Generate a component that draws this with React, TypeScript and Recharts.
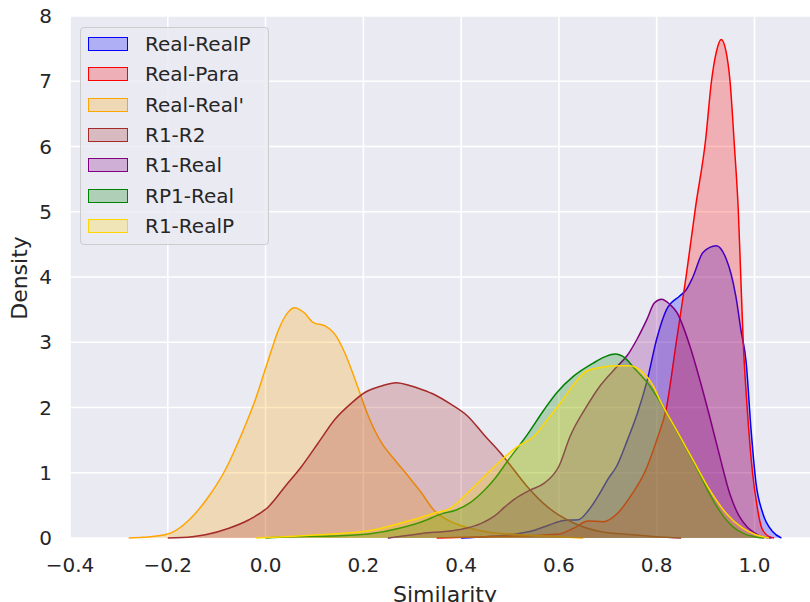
import React from 'react';
import { ComposedChart, Area, XAxis, YAxis, CartesianGrid, Legend, Label } from 'recharts';

// KDE curves: x = similarity, y = density

const realRealPX = [0.40, 0.45, 0.50, 0.55, 0.58, 0.61, 0.64, 0.66, 0.684, 0.70, 0.718, 0.74, 0.76, 0.78, 0.80, 0.82, 0.847, 0.86, 0.874, 0.895, 0.922, 0.942, 0.952, 0.962, 0.972, 0.983, 0.993, 1.003, 1.017, 1.037, 1.055];
const realRealPY = [0.0, 0.02, 0.05, 0.12, 0.2, 0.27, 0.28, 0.42, 0.69, 0.9, 1.1, 1.5, 1.9, 2.4, 3.05, 3.5, 3.71, 3.8, 4.0, 4.38, 4.48, 4.28, 4.05, 3.7, 3.2, 2.69, 1.66, 0.85, 0.38, 0.1, 0.0];

const realParaX = [0.35, 0.45, 0.55, 0.60, 0.63, 0.66, 0.69, 0.72, 0.75, 0.775, 0.80, 0.82, 0.84, 0.86, 0.88, 0.90, 0.912, 0.922, 0.932, 0.942, 0.950, 0.959, 0.967, 0.972, 0.977, 0.985, 0.996, 1.005, 1.015, 1.03, 1.04];
const realParaY = [0.0, 0.02, 0.04, 0.06, 0.15, 0.26, 0.25, 0.38, 0.68, 1.0, 1.5, 2.0, 3.0, 4.0, 5.1, 6.1, 7.0, 7.45, 7.64, 7.45, 7.0, 6.0, 5.0, 4.0, 3.0, 2.0, 1.0, 0.5, 0.15, 0.02, 0.0];

const realRealX = [-0.28, -0.25, -0.2, -0.156, -0.116, -0.082, -0.048, -0.021, 0.006, 0.027, 0.045, 0.059, 0.078, 0.098, 0.122, 0.142, 0.162, 0.183, 0.21, 0.237, 0.264, 0.298, 0.318, 0.345, 0.379, 0.413, 0.447, 0.5, 0.55, 0.6, 0.65];
const realRealY = [0.0, 0.01, 0.06, 0.28, 0.64, 1.05, 1.61, 2.12, 2.74, 3.2, 3.45, 3.53, 3.46, 3.3, 3.25, 3.12, 2.84, 2.43, 1.87, 1.46, 1.2, 0.89, 0.7, 0.42, 0.25, 0.16, 0.1, 0.06, 0.04, 0.02, 0.0];

const r1R2X = [-0.2, -0.15, -0.123, -0.075, -0.034, 0.006, 0.04, 0.074, 0.108, 0.142, 0.176, 0.203, 0.237, 0.267, 0.298, 0.318, 0.345, 0.379, 0.413, 0.447, 0.481, 0.495, 0.535, 0.576, 0.63, 0.684, 0.752, 0.8, 0.85];
const r1R2Y = [0.0, 0.02, 0.05, 0.15, 0.28, 0.48, 0.79, 1.1, 1.46, 1.82, 2.07, 2.23, 2.33, 2.38, 2.33, 2.28, 2.2, 2.05, 1.87, 1.58, 1.3, 1.17, 0.79, 0.48, 0.23, 0.1, 0.05, 0.02, 0.0];

const r1RealX = [0.25, 0.28, 0.32, 0.38, 0.41, 0.44, 0.467, 0.49, 0.51, 0.54, 0.57, 0.60, 0.623, 0.657, 0.684, 0.718, 0.74, 0.76, 0.78, 0.795, 0.81, 0.827, 0.841, 0.868, 0.888, 0.908, 0.929, 0.949, 0.969, 0.985, 1.0, 1.02, 1.035];
const r1RealY = [0.0, 0.03, 0.07, 0.11, 0.15, 0.22, 0.33, 0.48, 0.6, 0.73, 0.84, 1.1, 1.56, 2.02, 2.33, 2.62, 2.8, 3.05, 3.35, 3.6, 3.66, 3.58, 3.46, 2.94, 2.43, 1.87, 1.25, 0.69, 0.33, 0.17, 0.08, 0.01, 0.0];

const rp1RealX = [0.0, 0.05, 0.14, 0.21, 0.28, 0.32, 0.36, 0.39, 0.42, 0.45, 0.47, 0.495, 0.535, 0.57, 0.596, 0.63, 0.67, 0.695, 0.715, 0.735, 0.752, 0.786, 0.82, 0.854, 0.888, 0.91, 0.93, 0.956, 0.98, 1.0, 1.02];
const rp1RealY = [0.0, 0.02, 0.03, 0.06, 0.16, 0.25, 0.37, 0.43, 0.55, 0.75, 0.92, 1.18, 1.58, 1.97, 2.23, 2.48, 2.68, 2.78, 2.82, 2.76, 2.62, 2.33, 1.92, 1.46, 0.98, 0.65, 0.4, 0.17, 0.06, 0.02, 0.0];

const r1RealPX = [-0.02, 0.04, 0.11, 0.21, 0.277, 0.311, 0.345, 0.379, 0.413, 0.447, 0.48, 0.515, 0.549, 0.575, 0.603, 0.63, 0.657, 0.69, 0.72, 0.745, 0.77, 0.793, 0.806, 0.84, 0.874, 0.908, 0.942, 0.976, 1.003, 1.03];
const r1RealPY = [0.0, 0.02, 0.05, 0.11, 0.23, 0.3, 0.38, 0.46, 0.69, 0.94, 1.18, 1.4, 1.56, 1.8, 2.07, 2.35, 2.56, 2.62, 2.64, 2.64, 2.55, 2.33, 2.12, 1.66, 1.2, 0.74, 0.38, 0.15, 0.05, 0.0];

const xTicks = [-0.4, -0.2, 0.0, 0.2, 0.4, 0.6, 0.8, 1.0];
const yTicks = [0, 1, 2, 3, 4, 5, 6, 7, 8];

const zip = (xs: number[], ys: number[]) => xs.map((x, i) => ({ x, d: ys[i] }));

const SERIES = [
  { name: 'Real-RealP', color: '#0000ff', data: zip(realRealPX, realRealPY) },
  { name: 'Real-Para', color: '#ff0000', data: zip(realParaX, realParaY) },
  { name: "Real-Real'", color: '#ffa500', data: zip(realRealX, realRealY) },
  { name: 'R1-R2', color: '#a52a2a', data: zip(r1R2X, r1R2Y) },
  { name: 'R1-Real', color: '#800080', data: zip(r1RealX, r1RealY) },
  { name: 'RP1-Real', color: '#008000', data: zip(rp1RealX, rp1RealY) },
  { name: 'R1-RealP', color: '#ffd700', data: zip(r1RealPX, r1RealPY) },
];

const FONT = '"DejaVu Sans", sans-serif';
const TEXT = '#262626';

const fmt = (v: number) => v.toFixed(1).replace('-', '\u2212');

const DensityLabel = (props: any) => {
  const vb = props.viewBox || { x: 0, y: 16, width: 70, height: 522 };
  const cx = vb.x + 19;
  const cy = vb.y + vb.height / 2 + 1;
  return (
    <text
      x={cx}
      y={cy}
      transform={`rotate(-90 ${cx} ${cy})`}
      textAnchor="middle"
      dominantBaseline="central"
      fill={TEXT}
      fontSize={22}
      fontFamily={FONT}
    >
      Density
    </text>
  );
};

const LegendBox = () => (
  <div
    style={{
      width: 180,
      height: 215,
      boxSizing: 'content-box',
      border: '1px solid #cccccc',
      borderRadius: 4,
      background: 'rgba(234,234,242,0.8)',
      padding: '1px 0 0 7px',
      fontFamily: FONT,
      fontSize: 20,
      color: TEXT,
    }}
  >
    {SERIES.map((s) => (
      <div key={s.name} style={{ display: 'flex', alignItems: 'center', height: 30.3 }}>
        <div
          style={{
            width: 38,
            height: 12,
            border: `1.5px solid ${s.color}`,
            background: s.color + '40',
            marginRight: 17,
          }}
        />
        <span style={{ whiteSpace: 'nowrap' }}>{s.name}</span>
      </div>
    ))}
  </div>
);

export default function App() {
  // the reference figure is cropped on the right, so the plot runs a little past the page edge
  return (
    <div style={{ position: 'absolute', left: 0, top: 0, width: 810, height: 602, overflow: 'hidden', fontFamily: FONT }}>
      <ComposedChart width={820} height={602} margin={{ top: 16, right: 0, bottom: 0, left: 0 }}>
        <CartesianGrid fill="#eaeaf2" stroke="#ffffff" strokeWidth={1.6} />
        <XAxis
          type="number"
          dataKey="x"
          domain={[-0.4, 1.134]}
          allowDataOverflow
          ticks={xTicks}
          interval={0}
          tickFormatter={fmt}
          tickLine={false}
          axisLine={false}
          tickSize={0}
          tickMargin={20}
          height={64}
          tick={{ fill: TEXT, fontSize: 20, fontFamily: FONT }}
        >
          <Label value="Similarity" position="insideBottom" offset={0} fill={TEXT} fontSize={22} fontFamily={FONT} />
        </XAxis>
        <YAxis
          type="number"
          domain={[0, 8]}
          ticks={yTicks}
          interval={0}
          tickLine={false}
          axisLine={false}
          tickSize={0}
          tickMargin={18}
          width={70}
          tick={{ fill: TEXT, fontSize: 20, fontFamily: FONT }}
        >
          <Label content={<DensityLabel />} />
        </YAxis>
        {SERIES.map((s) => (
          <Area
            key={s.name}
            data={s.data}
            dataKey="d"
            name={s.name}
            type="monotone"
            stroke={s.color}
            strokeWidth={1.5}
            fill={s.color}
            fillOpacity={0.25}
            dot={false}
            activeDot={false}
            isAnimationActive={false}
          />
        ))}
        <Legend
          content={<LegendBox />}
          wrapperStyle={{ left: 80, top: 27, width: 'auto', height: 'auto' }}
          layout="vertical"
          align="center"
          verticalAlign="middle"
        />
      </ComposedChart>
    </div>
  );
}
